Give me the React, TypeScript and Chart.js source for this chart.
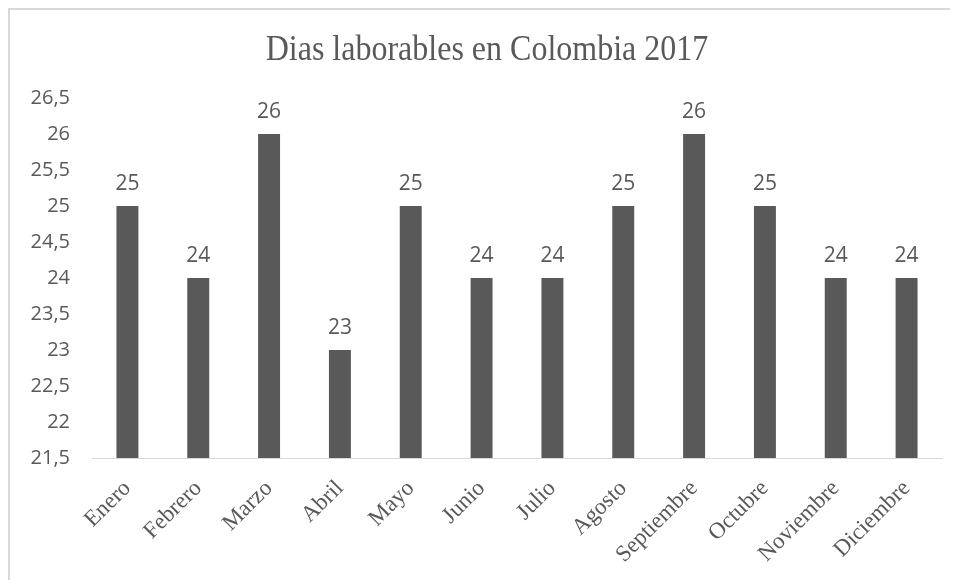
import React, { useEffect, useRef } from "react";
import { Chart, registerables } from "chart.js";

Chart.register(...registerables);

const TITLE = "Dias laborables en Colombia 2017";
const MONTHS = [
  "Enero", "Febrero", "Marzo", "Abril", "Mayo", "Junio",
  "Julio", "Agosto", "Septiembre", "Octubre", "Noviembre", "Diciembre",
];
const WORKDAYS = [25, 24, 26, 23, 25, 24, 24, 25, 26, 25, 24, 24];
const Y_MIN = 21.5;
const Y_MAX = 26.5;
const Y_STEP = 0.5;

const GREY = "#595959";

const valueLabels = {
  id: "valueLabels",
  afterDatasetsDraw(chart: any) {
    const { ctx } = chart;
    const meta = chart.getDatasetMeta(0);
    const data = chart.data.datasets[0].data;
    ctx.save();
    ctx.font = "21px 'Open Sans'";
    ctx.fillStyle = GREY;
    ctx.textAlign = "center";
    ctx.textBaseline = "alphabetic";
    meta.data.forEach((bar: any, i: number) => {
      ctx.fillText(String(data[i]), bar.x, bar.y - 16);
    });
    ctx.restore();
  },
};

const titlePlugin = {
  id: "stretchedTitle",
  afterDraw(chart: any) {
    const { ctx } = chart;
    ctx.save();
    ctx.font = "32px 'Liberation Serif'";
    ctx.fillStyle = GREY;
    ctx.textAlign = "center";
    ctx.textBaseline = "alphabetic";
    ctx.translate(477, 49.5);
    ctx.scale(1, 1.1);
    ctx.fillText(TITLE, 0, 0);
    ctx.restore();
  },
};

export default function App() {
  const ref = useRef<HTMLCanvasElement | null>(null);

  useEffect(() => {
    if (!ref.current) return;
    const chart = new Chart(ref.current, {
      type: "bar",
      data: {
        labels: MONTHS,
        datasets: [
          {
            data: WORKDAYS,
            backgroundColor: GREY,
            categoryPercentage: 1,
            barPercentage: 0.31,
          },
        ],
      },
      options: {
        animation: false,
        responsive: false,
        maintainAspectRatio: false,
        layout: { padding: { top: 88, left: 0, right: 16, bottom: 0 } },
        plugins: {
          legend: { display: false },
          tooltip: { enabled: false },
          title: { display: false },
        },
        scales: {
          x: {
            grid: { display: false, drawTicks: false },
            border: { display: true, color: "#d9d9d9", width: 1 },
            ticks: {
              color: GREY,
              font: { family: "'Liberation Serif'", size: 23 },
              minRotation: 45,
              maxRotation: 45,
              padding: 17,
            },
            afterFit: (s: any) => {
              s.height = 122;
            },
          },
          y: {
            min: Y_MIN,
            max: Y_MAX,
            grid: { display: false, drawTicks: false },
            border: { display: false },
            ticks: {
              stepSize: Y_STEP,
              color: GREY,
              font: { family: "'Open Sans'", size: 20 },
              padding: 22,
              callback: (v: any) => String(v).replace(".", ","),
            },
            afterFit: (s: any) => {
              s.width = 82;
            },
          },
        },
      },
      plugins: [valueLabels, titlePlugin],
    });
    return () => chart.destroy();
  }, []);

  return (
    <div
      style={{
        width: 950,
        height: 572,
        boxSizing: "border-box",
        borderTop: "2px solid #d9d9d9",
        borderLeft: "2px solid #d9d9d9",
        background: "#fff",
      }}
    >
      <canvas ref={ref} width={948} height={570} style={{ display: "block" }} />
    </div>
  );
}
